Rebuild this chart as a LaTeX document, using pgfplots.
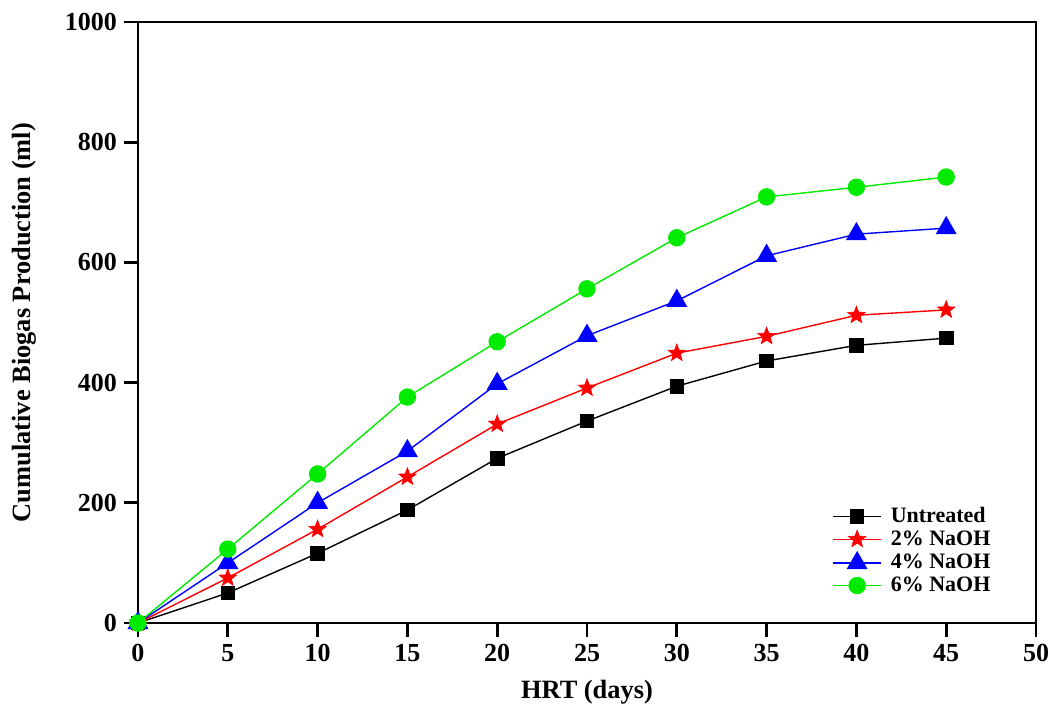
\documentclass[border=0pt]{standalone}
\usepackage{fontspec}
\setmainfont{Liberation Serif}
\usepackage{pgfplots}
\pgfplotsset{compat=1.18}

\definecolor{sgreen}{RGB}{0,235,0}

% filled five-pointed star
\pgfdeclareplotmark{fstar}{%
  \pgfpathmoveto{\pgfpointpolar{90}{\pgfplotmarksize}}%
  \pgfpathlineto{\pgfpointpolar{126}{0.42\pgfplotmarksize}}%
  \pgfpathlineto{\pgfpointpolar{162}{\pgfplotmarksize}}%
  \pgfpathlineto{\pgfpointpolar{198}{0.42\pgfplotmarksize}}%
  \pgfpathlineto{\pgfpointpolar{234}{\pgfplotmarksize}}%
  \pgfpathlineto{\pgfpointpolar{270}{0.42\pgfplotmarksize}}%
  \pgfpathlineto{\pgfpointpolar{306}{\pgfplotmarksize}}%
  \pgfpathlineto{\pgfpointpolar{342}{0.42\pgfplotmarksize}}%
  \pgfpathlineto{\pgfpointpolar{18}{\pgfplotmarksize}}%
  \pgfpathlineto{\pgfpointpolar{54}{0.42\pgfplotmarksize}}%
  \pgfpathclose
  \pgfusepathqfillstroke}

\begin{document}
\begin{tikzpicture}
\begin{axis}[
    scale only axis,
    width=449pt, height=300.5pt,
    xmin=0, xmax=50, ymin=0, ymax=1000,
    xtick={0,5,...,50},
    ytick={0,200,...,1000},
    axis line style={line width=1.4pt},
    every tick/.style={black, line width=1.4pt},
    tick align=outside,
    tick pos=left,
    major tick length=7pt,
    /pgf/number format/assume math mode=true,
    /pgf/number format/1000 sep={},
    tick label style={font=\fontsize{13}{15}\selectfont\bfseries},
    xlabel={HRT (days)},
    ylabel={Cumulative Biogas Production (ml)},
    label style={font=\fontsize{13.2}{15}\selectfont\bfseries},
    xlabel style={at={(0.5,-0.115)}, anchor=center},
    ylabel style={at={(-0.127,0.5)}, anchor=center},
    clip mode=individual,
    legend style={draw=none, fill=none, at={(0.773,0.194)}, anchor=north west,
        font=\fontsize{11}{12}\selectfont\bfseries, row sep=1.8pt,
        inner sep=0pt, nodes={inner ysep=0.3pt, inner xsep=4.5pt}},
    legend cell align=left,
    legend image code/.code={
        \draw[mark repeat=2, mark phase=2, #1] plot coordinates {(0cm,0cm) (0.42cm,0cm) (0.84cm,0cm)};},
]
\addplot[black, line width=0.7pt, mark=square*, mark size=3.3pt] coordinates {
    (0,0) (5,50) (10,116) (15,188) (20,274) (25,336) (30,394) (35,436) (40,462) (45,474)};
\addlegendentry{Untreated}
\addplot[red, line width=0.7pt, mark=fstar, mark options={fill=red, line width=0.3pt}, mark size=4.6pt] coordinates {
    (0,0) (5,75) (10,156) (15,243) (20,331) (25,391) (30,449) (35,477) (40,512) (45,521)};
\addlegendentry{2\% NaOH}
\addplot[blue, line width=0.7pt, mark=triangle*, mark size=5.4pt] coordinates {
    (0,0) (5,100) (10,200) (15,286) (20,398) (25,478) (30,536) (35,611) (40,647) (45,657)};
\addlegendentry{4\% NaOH}
\addplot[sgreen, line width=0.7pt, mark=*, mark size=4pt] coordinates {
    (0,0) (5,123) (10,248) (15,376) (20,468) (25,556) (30,641) (35,709) (40,725) (45,742)};
\addlegendentry{6\% NaOH}
\end{axis}
\pgfresetboundingbox
\useasboundingbox ([shift={(-69pt,-44pt)}]current axis.south west) rectangle ([shift={(7.5pt,11pt)}]current axis.north east);
\end{tikzpicture}
\end{document}
